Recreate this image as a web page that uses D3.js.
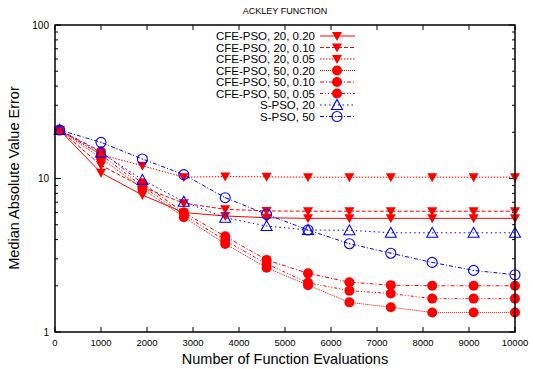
<!DOCTYPE html>
<html><head><meta charset="utf-8">
<script src="https://cdn.jsdelivr.net/npm/d3@7"></script>
<style>body{margin:0;background:#fff}text{font-family:"Liberation Sans",Arial,sans-serif}</style>
</head><body><svg id="c" width="533" height="369"></svg>
<script>
const evals = [100,1000,1900,2800,3700,4600,5500,6400,7300,8200,9100,10000];
const cfe20_020 = [20.7,10.9,7.8,6.0,5.7,5.55,5.5,5.5,5.5,5.5,5.5,5.5];
const cfe20_010 = [20.7,12.2,8.8,6.9,6.3,6.15,6.12,6.12,6.12,6.12,6.12,6.12];
const cfe20_005 = [20.7,14.3,12.1,10.2,10.3,10.25,10.2,10.2,10.2,10.2,10.2,10.2];
const cfe50_020 = [20.7,13.6,8.6,5.6,3.75,2.62,2.02,1.56,1.45,1.34,1.34,1.34];
const cfe50_010 = [20.7,15.0,9.3,6.0,4.2,2.95,2.41,2.11,2.02,2.0,2.0,2.0];
const cfe50_005 = [20.7,14.3,8.9,5.8,3.95,2.78,2.09,1.86,1.78,1.65,1.65,1.65];
const spso20 = [20.7,14.8,9.8,7.06,5.55,4.9,4.62,4.6,4.43,4.43,4.43,4.43];
const spso50 = [20.7,17.2,13.4,10.6,7.5,5.84,4.62,3.76,3.26,2.84,2.52,2.36];
const seriesNames = ["CFE-PSO, 20, 0.20","CFE-PSO, 20, 0.10","CFE-PSO, 20, 0.05","CFE-PSO, 50, 0.20","CFE-PSO, 50, 0.10","CFE-PSO, 50, 0.05","S-PSO, 20","S-PSO, 50"];
const xTicks = [0,1000,2000,3000,4000,5000,6000,7000,8000,9000,10000];
const yTicks = [1,10,100];

const series = [
  {name:seriesNames[0], v:cfe20_020, color:"#ff0000", dash:null, m:"tri"},
  {name:seriesNames[1], v:cfe20_010, color:"#ff0000", dash:"4,2", m:"tri"},
  {name:seriesNames[2], v:cfe20_005, color:"#ff0000", dash:"1.5,1.5", m:"tri"},
  {name:seriesNames[3], v:cfe50_020, color:"#ff0000", dash:"1,1", m:"dot"},
  {name:seriesNames[4], v:cfe50_010, color:"#ff0000", dash:"4,2,1,2", m:"dot"},
  {name:seriesNames[5], v:cfe50_005, color:"#ff0000", dash:"3,2,1,2,1,2", m:"dot"},
  {name:seriesNames[6], v:spso20, color:"#0000ff", dash:"1.5,3", m:"otri"},
  {name:seriesNames[7], v:spso50, color:"#0000ff", dash:"4,2,1,2", m:"ocirc"}
];

const L=55,R=515,T=25,B=332;
const svg=d3.select("#c");
const x=d3.scaleLinear().domain([0,10000]).range([L,R]);
const y=d3.scaleLog().domain([1,100]).range([B,T]);

const g=svg.append("g");
const minor=[];
[1,10].forEach(d=>{for(let k=2;k<=9;k++)minor.push(d*k);});
minor.forEach(v=>{
  g.append("line").attr("x1",L).attr("x2",L+3).attr("y1",y(v)).attr("y2",y(v)).attr("stroke","#000");
  g.append("line").attr("x1",R).attr("x2",R-3).attr("y1",y(v)).attr("y2",y(v)).attr("stroke","#000");
});
yTicks.forEach(v=>{
  g.append("line").attr("x1",L).attr("x2",L+6).attr("y1",y(v)).attr("y2",y(v)).attr("stroke","#000");
  g.append("line").attr("x1",R).attr("x2",R-6).attr("y1",y(v)).attr("y2",y(v)).attr("stroke","#000");
  g.append("text").attr("x",L-6).attr("y",y(v)+3.5).attr("text-anchor","end").attr("font-size",10).text(v);
});
xTicks.forEach(v=>{
  g.append("line").attr("x1",x(v)).attr("x2",x(v)).attr("y1",B).attr("y2",B-5).attr("stroke","#000");
  g.append("line").attr("x1",x(v)).attr("x2",x(v)).attr("y1",T).attr("y2",T+5).attr("stroke","#000");
  g.append("text").attr("x",x(v)).attr("y",B+14).attr("text-anchor","middle").attr("font-size",9.5).text(v);
});

const line=d3.line().x((d,i)=>x(evals[i])).y(d=>y(d));
function marker(sel,type,color,cx,cy){
  if(type==="tri"){
    sel.append("path").attr("d",`M${cx-5},${cy-4}L${cx+5},${cy-4}L${cx},${cy+5}Z`).attr("fill",color);
  } else if(type==="dot"){
    sel.append("circle").attr("cx",cx).attr("cy",cy).attr("r",5).attr("fill",color);
  } else if(type==="otri"){
    sel.append("path").attr("d",`M${cx-5.5},${cy+4.5}L${cx+5.5},${cy+4.5}L${cx},${cy-5.5}Z`).attr("fill","none").attr("stroke",color).attr("stroke-width",1.1);
  } else {
    sel.append("circle").attr("cx",cx).attr("cy",cy).attr("r",5).attr("fill","none").attr("stroke",color).attr("stroke-width",1.1);
    sel.append("circle").attr("cx",cx).attr("cy",cy).attr("r",0.6).attr("fill",color);
  }
}
const plot=svg.append("g");
series.forEach(s=>{
  plot.append("path").attr("d",line(s.v)).attr("fill","none").attr("stroke",s.color).attr("stroke-width",1).attr("stroke-dasharray",s.dash);
});
series.forEach(s=>{
  s.v.forEach((v,i)=>marker(plot,s.m,s.color,x(evals[i]),y(v)));
});

svg.append("rect").attr("x",L).attr("y",T).attr("width",R-L).attr("height",B-T).attr("fill","none").attr("stroke","#000").attr("stroke-width",1.5);

const leg=svg.append("g");
series.forEach((s,i)=>{
  const ly=36+i*11.5;
  leg.append("text").attr("x",315).attr("y",ly+4).attr("text-anchor","end").attr("font-size",11.5).text(s.name);
  leg.append("line").attr("x1",320).attr("x2",355).attr("y1",ly).attr("y2",ly).attr("stroke",s.color).attr("stroke-dasharray",s.dash);
  marker(leg,s.m,s.color,337,ly);
});

svg.append("text").attr("x",285).attr("y",14).attr("text-anchor","middle").attr("font-size",9).text("ACKLEY FUNCTION");
svg.append("text").attr("x",285).attr("y",364).attr("text-anchor","middle").attr("font-size",14.5).text("Number of Function Evaluations");
svg.append("text").attr("transform","translate(19,178) rotate(-90)").attr("text-anchor","middle").attr("font-size",14.5).text("Median Absolute Value Error");
</script></body></html>
